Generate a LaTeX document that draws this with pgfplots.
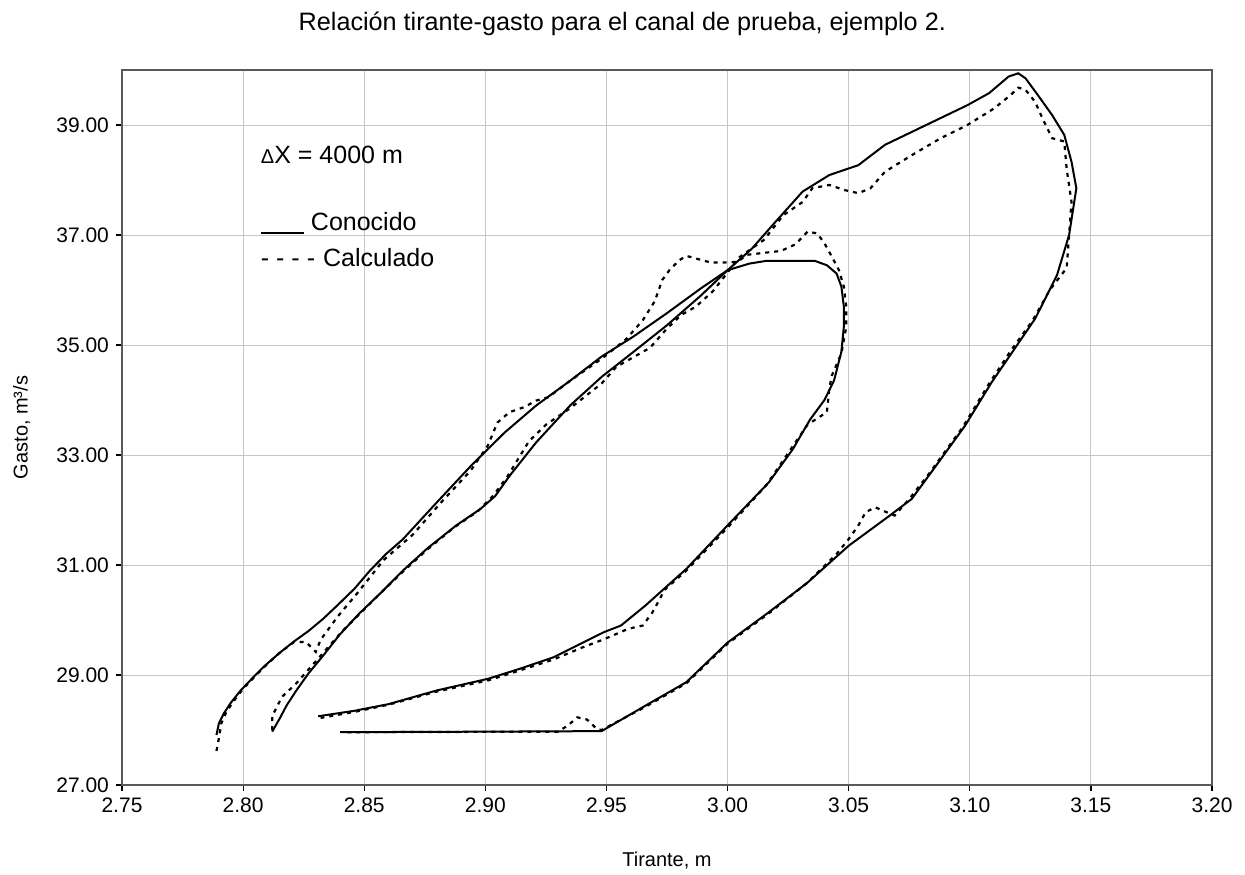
\documentclass[border=0pt]{standalone}
\usepackage{fontspec}
\setmainfont{Liberation Sans}
\usepackage{pgfplots}
\pgfplotsset{compat=1.18}

\begin{document}
\begin{tikzpicture}
\begin{axis}[
  scale only axis, width=545pt, height=357.5pt,
  xmin=2.75, xmax=3.20, ymin=27, ymax=40,
  xtick={2.75,2.80,2.85,2.90,2.95,3.00,3.05,3.10,3.15,3.20},
  ytick={27,29,31,33,35,37,39},
  grid=major, grid style={black!22, line width=0.5pt},
  axis line style={black!65, line width=0.6pt},
  tick pos=left, tick align=outside, major tick length=3pt,
  tick style={black, line width=0.6pt},
  /pgf/number format/assume math mode=true,
  xticklabel style={/pgf/number format/fixed, /pgf/number format/fixed zerofill, /pgf/number format/precision=2},
  yticklabel style={/pgf/number format/fixed, /pgf/number format/fixed zerofill, /pgf/number format/precision=2},
  tick label style={font=\fontsize{10.5}{12}\selectfont},
  xlabel={Tirante, m}, ylabel={Gasto, m³/s},
  label style={font=\fontsize{11.5}{13}\selectfont},
  every axis x label/.style={at={(axis description cs:0.5,-0.105)}, anchor=center},
  every axis y label/.style={at={(axis description cs:-0.092,0.5)}, rotate=90, anchor=center},
  title={Relación tirante-gasto para el canal de prueba, ejemplo 2.},
  every axis title shift=0pt,
  title style={at={(axis description cs:0.459,1.064)}, anchor=center, font=\fontsize{12.6}{14}\selectfont},
]
% Conocido, lazo mayor
\addplot[black, line width=1pt] coordinates {
  (2.812,27.97) (2.815,28.20) (2.818,28.45) (2.822,28.72) (2.827,29.03)
  (2.833,29.35) (2.840,29.74) (2.848,30.12) (2.857,30.50) (2.866,30.90)
  (2.876,31.30) (2.888,31.72) (2.898,32.02) (2.904,32.25) (2.910,32.62)
  (2.921,33.23) (2.935,33.90) (2.948,34.42) (2.961,34.87) (2.975,35.36)
  (2.989,35.90) (3.000,36.36) (3.010,36.75) (3.019,37.20) (3.031,37.79)
  (3.042,38.09) (3.054,38.27) (3.065,38.64) (3.082,39.00) (3.099,39.36)
  (3.108,39.58) (3.116,39.88) (3.120,39.94) (3.123,39.85) (3.128,39.55)
  (3.134,39.18) (3.139,38.82) (3.142,38.33) (3.144,37.85) (3.141,37.00)
  (3.136,36.27) (3.127,35.48) (3.118,34.90) (3.109,34.32) (3.098,33.53)
  (3.084,32.68) (3.076,32.20) (3.067,31.90) (3.050,31.35) (3.033,30.68)
  (3.017,30.14) (3.000,29.59) (2.983,28.87) (2.966,28.44) (2.948,27.98)
  (2.900,27.97) (2.840,27.96)
};
% Conocido, lazo menor
\addplot[black, line width=1pt] coordinates {
  (2.789,27.91) (2.790,28.12) (2.792,28.30) (2.795,28.50) (2.799,28.72)
  (2.804,28.95) (2.809,29.17) (2.815,29.40) (2.821,29.61) (2.827,29.80)
  (2.833,30.02) (2.839,30.27) (2.846,30.57) (2.852,30.88) (2.859,31.20)
  (2.866,31.47) (2.880,32.14) (2.894,32.80) (2.908,33.41) (2.921,33.90)
  (2.935,34.35) (2.948,34.79) (2.961,35.15) (2.975,35.58) (2.989,36.03)
  (3.000,36.36) (3.009,36.48) (3.016,36.53) (3.036,36.53) (3.041,36.45)
  (3.045,36.30) (3.047,36.06) (3.048,35.70) (3.048,35.33) (3.047,34.88)
  (3.044,34.36) (3.040,34.00) (3.034,33.64) (3.027,33.11) (3.017,32.50)
  (3.000,31.72) (2.983,30.93) (2.966,30.26) (2.956,29.90) (2.949,29.78)
  (2.928,29.32) (2.914,29.11) (2.901,28.93) (2.880,28.72) (2.860,28.47)
  (2.846,28.35) (2.831,28.25)
};
% Calculado, lazo mayor
\addplot[black, line width=1.1pt, dash pattern=on 2pt off 2.5pt] coordinates {
  (2.812,28.00) (2.812,28.25) (2.816,28.60) (2.822,28.85) (2.828,29.15)
  (2.834,29.45) (2.841,29.80) (2.849,30.15) (2.857,30.50) (2.866,30.88)
  (2.876,31.28) (2.887,31.68) (2.897,31.98) (2.903,32.25) (2.909,32.60)
  (2.918,33.25) (2.925,33.55) (2.935,33.85) (2.948,34.30) (2.954,34.60)
  (2.968,34.95) (2.975,35.30) (2.981,35.55) (2.987,35.70) (2.994,35.98)
  (3.005,36.60) (3.015,36.91) (3.023,37.36) (3.031,37.60) (3.035,37.85)
  (3.042,37.91) (3.048,37.82) (3.054,37.76) (3.059,37.85) (3.065,38.15)
  (3.076,38.45) (3.088,38.76) (3.099,39.00) (3.110,39.30) (3.117,39.55)
  (3.120,39.68) (3.123,39.64) (3.127,39.42) (3.130,39.12) (3.134,38.76)
  (3.139,38.70) (3.140,38.20) (3.142,37.60) (3.141,37.00) (3.140,36.40)
  (3.133,36.00) (3.126,35.45) (3.117,34.90) (3.108,34.30) (3.097,33.50)
  (3.083,32.65) (3.075,32.20) (3.069,31.90) (3.064,31.99) (3.061,32.05)
  (3.057,31.96) (3.054,31.72) (3.050,31.47) (3.045,31.20) (3.033,30.68)
  (3.017,30.12) (3.000,29.57) (2.983,28.85) (2.966,28.42) (2.948,28.00)
  (2.946,28.02) (2.942,28.19) (2.938,28.23) (2.934,28.08) (2.930,27.97)
  (2.842,27.96)
};
% Calculado, lazo menor
\addplot[black, line width=1.1pt, dash pattern=on 2pt off 2.5pt] coordinates {
  (2.789,27.62) (2.790,27.85) (2.791,28.12) (2.793,28.32) (2.796,28.52)
  (2.800,28.75) (2.805,28.98) (2.810,29.20) (2.815,29.40) (2.821,29.60)
  (2.826,29.60) (2.830,29.42) (2.832,29.64) (2.839,30.06) (2.847,30.48)
  (2.858,31.09) (2.870,31.55) (2.882,32.15) (2.894,32.72) (2.901,33.17)
  (2.905,33.59) (2.910,33.78) (2.916,33.87) (2.921,33.99) (2.926,34.05)
  (2.935,34.35) (2.948,34.75) (2.958,35.10) (2.965,35.45) (2.970,35.80)
  (2.973,36.18) (2.976,36.36) (2.980,36.54) (2.983,36.62) (2.988,36.56)
  (2.993,36.50) (2.998,36.50) (3.004,36.51) (3.008,36.64) (3.016,36.68)
  (3.022,36.71) (3.028,36.83) (3.033,37.06) (3.037,37.03) (3.040,36.85)
  (3.043,36.61) (3.046,36.36) (3.048,36.06) (3.049,35.70) (3.049,35.33)
  (3.047,34.85) (3.043,34.44) (3.042,34.20) (3.041,33.78) (3.033,33.55)
  (3.026,33.10) (3.016,32.45) (3.000,31.68) (2.983,30.90) (2.974,30.55)
  (2.972,30.38) (2.969,30.14) (2.965,29.90) (2.959,29.84) (2.949,29.65)
  (2.940,29.50) (2.928,29.28) (2.914,29.08) (2.901,28.90) (2.880,28.70)
  (2.860,28.46) (2.846,28.33) (2.832,28.22)
};
\node[anchor=west, font=\fontsize{12.5}{14}\selectfont] at (axis description cs:0.121,0.881)
  {{\fontsize{10}{12}\selectfont Δ}X = 4000 m};
\node[anchor=west, font=\fontsize{12.5}{14}\selectfont] at (axis description cs:0.121,0.786)
  {\rule[-1.5pt]{21.5pt}{0.9pt}\hspace{3.5pt}Conocido};
\node[anchor=west, font=\fontsize{12.5}{14}\selectfont] at (axis description cs:0.121,0.738)
  {- - - -\hspace{4pt}Calculado};
\end{axis}
\pgfresetboundingbox
\path (-61pt,-44.5pt) rectangle (561.5pt,392.5pt);
\end{tikzpicture}
\end{document}
